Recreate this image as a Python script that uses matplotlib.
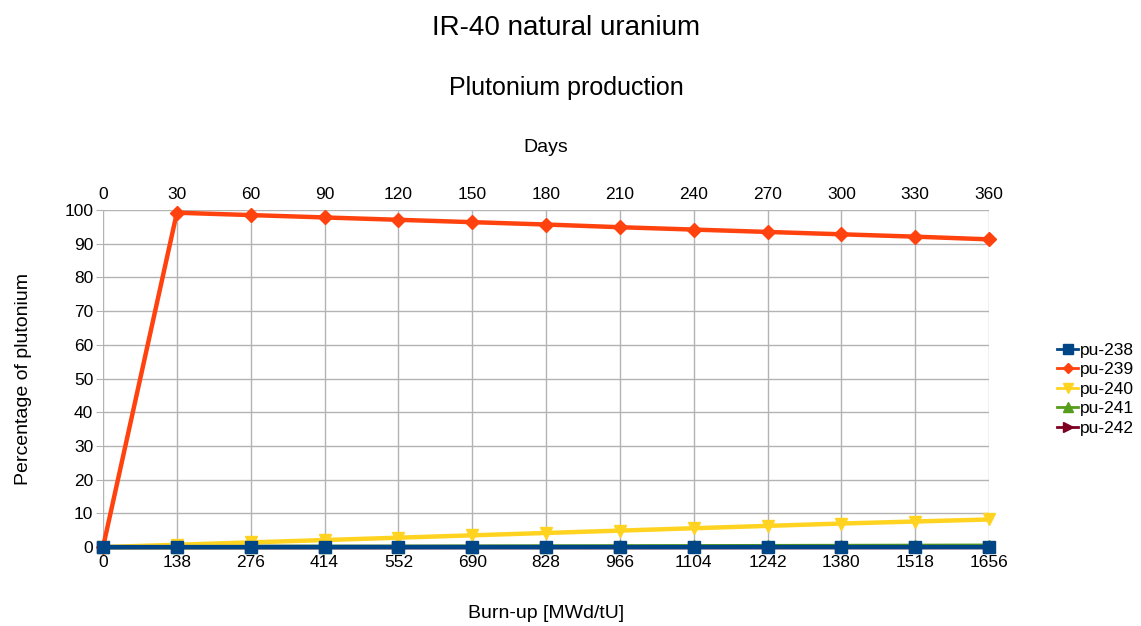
import matplotlib
matplotlib.use("Agg")
import matplotlib.pyplot as plt
from matplotlib.lines import Line2D

plt.rcParams['font.family'] = ['Liberation Sans', 'DejaVu Sans']

burnup = [0, 138, 276, 414, 552, 690, 828, 966, 1104, 1242, 1380, 1518, 1656]
days = [0, 30, 60, 90, 120, 150, 180, 210, 240, 270, 300, 330, 360]

pu238 = [0, 0.01, 0.01, 0.01, 0.01, 0.01, 0.01, 0.01, 0.01, 0.02, 0.02, 0.02, 0.02]
pu239 = [0, 99.2, 98.5, 97.8, 97.1, 96.4, 95.7, 94.9, 94.2, 93.5, 92.8, 92.1, 91.3]
pu240 = [0, 0.7, 1.4, 2.1, 2.8, 3.5, 4.2, 4.9, 5.6, 6.3, 7.0, 7.6, 8.2]
pu241 = [0, 0.02, 0.05, 0.08, 0.1, 0.13, 0.17, 0.2, 0.24, 0.28, 0.32, 0.36, 0.4]
pu242 = [0, 0.0, 0.0, 0.0, 0.0, 0.01, 0.01, 0.01, 0.01, 0.02, 0.02, 0.02, 0.03]

series = [
    ("pu-238", pu238, "#004586", "s"),
    ("pu-239", pu239, "#ff420e", "D"),
    ("pu-240", pu240, "#ffd320", "v"),
    ("pu-241", pu241, "#579d1c", "^"),
    ("pu-242", pu242, "#7e0021", ">"),
]

fig = plt.figure(figsize=(11.41, 6.26), dpi=100)
ax = fig.add_axes([0.0903, 0.126, 0.7765, 0.5385])

handles = []
for i, (name, vals, col, mk) in enumerate(series):
    ms = 7 if mk == "D" else 9
    ax.plot(burnup, vals, color=col, marker=mk, markersize=ms, linewidth=3.2,
            clip_on=False, zorder=10 - i if name != "pu-238" else 11)
    handles.append(Line2D([], [], color=col, marker=mk, linewidth=2,
                          markersize=ms * 0.8, label=name))

ax.set_xlim(0, 1656)
ax.set_ylim(0, 100)
ax.set_xticks(burnup)
ax.set_yticks(range(0, 101, 10))
ax.grid(True, color="#b3b3b3", linewidth=1)
ax.set_axisbelow(True)
for s in ax.spines.values():
    s.set_visible(False)
ax.tick_params(axis="both", length=5, color="#b3b3b3", labelsize=12.5, pad=2)
ax.tick_params(axis="x", length=0, pad=6)
ax.set_xlabel("Burn-up [MWd/tU]", fontsize=14, labelpad=25)
ax.set_ylabel("Percentage of plutonium", fontsize=14, labelpad=23)

ax2 = ax.twiny()
ax2.set_xlim(0, 360)
ax2.set_xticks(days)
for s in ax2.spines.values():
    s.set_visible(False)
ax2.tick_params(axis="x", length=0, labelsize=12.5, pad=6)
ax2.set_xlabel("Days", fontsize=14, labelpad=25)

fig.text(0.496, 0.955, "IR-40 natural uranium", ha="center", va="center", fontsize=20)
fig.text(0.496, 0.859, "Plutonium production", ha="center", va="center", fontsize=18)

fig.legend(handles=handles, loc="center left", bbox_to_anchor=(0.913, 0.378),
           frameon=False, fontsize=12.5, handlelength=1.2, handletextpad=0.1,
           labelspacing=0.25)

fig.savefig("out.png", dpi=100)
